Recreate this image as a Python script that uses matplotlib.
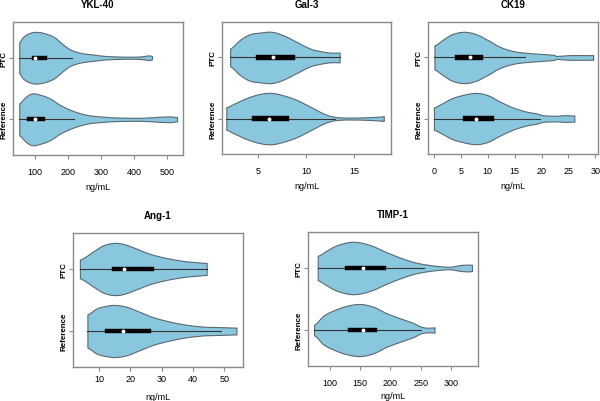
import numpy as np
import matplotlib
matplotlib.use("Agg")
import matplotlib.pyplot as plt

plt.rcParams['font.family'] = ['Liberation Sans', 'DejaVu Sans']

groups = ["Reference", "PTC"]
titles = ["YKL-40", "Gal-3", "CK19", "Ang-1", "TIMP-1"]
xlabel = "ng/mL"

# violin outlines: value positions and relative half-width (density)
ykl_ptc_v = [52, 64, 80, 100, 125, 156, 181, 206, 237, 277, 318, 378, 419, 444, 454]
ykl_ptc_d = [0.61, 0.81, 0.94, 1.0, 0.96, 0.81, 0.55, 0.32, 0.19, 0.12, 0.065, 0.04, 0.05, 0.09, 0.065]
ykl_ref_v = [52, 70, 90, 115, 146, 176, 216, 257, 297, 348, 419, 480, 510, 530]
ykl_ref_d = [0.62, 0.85, 1.0, 0.95, 0.8, 0.55, 0.32, 0.17, 0.11, 0.07, 0.06, 0.1, 0.11, 0.08]

gal_ptc_v = [2.1, 3.1, 4.1, 5.2, 6.4, 7.6, 9.0, 10.4, 11.45, 12.5, 13.5]
gal_ptc_d = [0.35, 0.68, 0.9, 0.97, 1.0, 0.87, 0.61, 0.35, 0.25, 0.19, 0.19]
gal_ref_v = [1.7, 2.4, 3.8, 5.2, 6.4, 7.6, 9.0, 10.4, 11.8, 12.8, 13.9, 15.3, 16.3, 17.4, 18.1]
gal_ref_d = [0.44, 0.56, 0.8, 0.96, 1.0, 0.91, 0.73, 0.47, 0.2, 0.08, 0.04, 0.04, 0.05, 0.07, 0.09]

ck_ptc_v = [0.1, 1.6, 3.4, 5.6, 7.8, 10.0, 12.2, 14.7, 17.2, 19.7, 22.2, 22.8, 25.3, 28.4, 29.6]
ck_ptc_d = [0.47, 0.68, 0.91, 1.0, 0.91, 0.68, 0.42, 0.25, 0.18, 0.14, 0.1, 0.06, 0.09, 0.09, 0.09]
ck_ref_v = [0.0, 1.6, 3.4, 5.6, 7.8, 10.0, 12.2, 14.7, 17.2, 19.1, 20.3, 22.8, 24.1, 26.1]
ck_ref_d = [0.44, 0.6, 0.8, 0.93, 1.0, 0.91, 0.67, 0.43, 0.27, 0.2, 0.13, 0.11, 0.13, 0.12]

ang_ptc_v = [3.9, 8.2, 11.4, 14.6, 17.8, 22.0, 26.3, 31.6, 36.9, 41.2, 44.4]
ang_ptc_d = [0.36, 0.68, 0.91, 1.0, 0.96, 0.78, 0.58, 0.42, 0.31, 0.26, 0.23]
ang_ref_v = [6.3, 9.3, 12.5, 15.1, 18.8, 23.1, 27.3, 32.7, 38.0, 43.3, 48.6, 53.9]
ang_ref_d = [0.64, 0.87, 0.97, 1.0, 0.93, 0.73, 0.53, 0.36, 0.24, 0.17, 0.15, 0.13]

timp_ptc_v = [79.6, 94.5, 111, 133, 152, 172, 194, 216, 238, 260, 282, 299, 315, 327, 335]
timp_ptc_d = [0.47, 0.67, 0.87, 1.0, 0.97, 0.83, 0.6, 0.4, 0.23, 0.13, 0.07, 0.05, 0.11, 0.13, 0.12]
timp_ref_v = [73.5, 89, 105.5, 127.6, 149.7, 171.8, 194, 216, 238, 249, 260, 273]
timp_ref_d = [0.2, 0.55, 0.75, 0.93, 1.0, 0.89, 0.64, 0.45, 0.27, 0.14, 0.09, 0.1]

# box statistics: [whisker low, q1, median, q3, whisker high]
ykl_ptc_box = [52, 90, 101, 136, 212]
ykl_ref_box = [52, 75, 100, 130, 218]
gal_ptc_box = [2.1, 4.83, 6.6, 8.9, 13.5]
gal_ref_box = [1.7, 4.37, 6.1, 8.24, 13.0]
ck_ptc_box = [0.1, 3.94, 6.75, 9.19, 16.9]
ck_ref_box = [0.0, 5.44, 7.81, 11.1, 19.7]
ang_ptc_box = [3.9, 14.3, 18.0, 27.7, 44.4]
ang_ref_box = [6.3, 11.9, 17.8, 26.5, 49.0]
timp_ptc_box = [79.6, 124, 155, 193, 255]
timp_ref_box = [73.5, 129, 155, 178, 250]

xticks = [[100, 200, 300, 400, 500], [5, 10, 15], [0, 5, 10, 15, 20, 25, 30],
          [10, 20, 30, 40, 50], [100, 150, 200, 250, 300]]
xlims = [(33, 548), (1.25, 18.85), (-1.1, 30.5), (1.7, 56), (63.5, 345)]

panels = [
    ((ykl_ref_v, ykl_ref_d, ykl_ref_box), (ykl_ptc_v, ykl_ptc_d, ykl_ptc_box)),
    ((gal_ref_v, gal_ref_d, gal_ref_box), (gal_ptc_v, gal_ptc_d, gal_ptc_box)),
    ((ck_ref_v, ck_ref_d, ck_ref_box), (ck_ptc_v, ck_ptc_d, ck_ptc_box)),
    ((ang_ref_v, ang_ref_d, ang_ref_box), (ang_ptc_v, ang_ptc_d, ang_ptc_box)),
    ((timp_ref_v, timp_ref_d, timp_ref_box), (timp_ptc_v, timp_ptc_d, timp_ptc_box)),
]

# axes rectangles in pixels (x0, y0, x1, y1) with y from top
W, H = 600, 402
rects = [(13, 23, 183, 156), (222, 23, 391, 155), (428, 23, 598, 155),
         (73, 234, 243, 368), (308, 233, 478, 367)]
tick_pads = [5.5, 5.5, 5.5, 2.0, 5.5]
xlabel_gap = [27, 27, 27, 25, 25]   # pixels from axes bottom to xlabel top

FILL = "#89c7df"
EDGE = "#5a6870"
FRAME = "#8a8a8a"


def smooth(x, y, n=12):
    x = np.asarray(x, float); y = np.asarray(y, float)
    px = np.concatenate([[2 * x[0] - x[1]], x, [2 * x[-1] - x[-2]]])
    py = np.concatenate([[y[0]], y, [y[-1]]])
    ox, oy = [], []
    t = np.linspace(0, 1, n, endpoint=False)
    for i in range(1, len(px) - 2):
        p0, p1, p2, p3 = px[i - 1], px[i], px[i + 1], px[i + 2]
        q0, q1, q2, q3 = py[i - 1], py[i], py[i + 1], py[i + 2]
        for arr, a0, a1, a2, a3 in ((ox, p0, p1, p2, p3), (oy, q0, q1, q2, q3)):
            arr.extend(0.5 * ((2 * a1) + (-a0 + a2) * t + (2 * a0 - 5 * a1 + 4 * a2 - a3) * t ** 2
                              + (-a0 + 3 * a1 - 3 * a2 + a3) * t ** 3))
    ox.append(x[-1]); oy.append(y[-1])
    return np.array(ox), np.clip(np.array(oy), 0.02, None)


fig = plt.figure(figsize=(6, 4.02), dpi=100)
for k, (title, pan) in enumerate(zip(titles, panels)):
    x0, y0, x1, y1 = rects[k]
    ax = fig.add_axes([x0 / W, 1 - y1 / H, (x1 - x0) / W, (y1 - y0) / H])
    for pos, (vals, dens, box) in enumerate(pan, start=1):
        sx, sy = smooth(vals, dens)
        hw = sy * 0.42
        ax.fill_between(sx, pos - hw, pos + hw, facecolor=FILL, edgecolor=EDGE, lw=0.8, zorder=2)
        ax.plot([box[0], box[4]], [pos, pos], color="#333333", lw=0.8, zorder=3)
        ax.fill_between([box[1], box[3]], pos - 0.035, pos + 0.035, facecolor="black",
                        edgecolor="black", lw=0.3, zorder=4)
        ax.plot([box[2]], [pos], "o", color="white", ms=2.8, mew=0, zorder=5)
    ax.set_xlim(*xlims[k])
    ax.set_ylim(0.42, 2.58)
    ax.set_xticks(xticks[k])
    ax.set_yticks([1, 2])
    ax.set_yticklabels(groups, rotation=90, va="center", fontsize=5.8, fontweight="bold")
    ax.tick_params(axis="x", labelsize=6.5, length=3, color=FRAME, pad=tick_pads[k])
    ax.tick_params(axis="y", length=3, color=FRAME, pad=1.0)
    for s in ax.spines.values():
        s.set_color(FRAME)
        s.set_linewidth(1.0)
    ax.set_title(title, fontsize=7, fontweight="bold", pad=10.5)
    ax.set_xlabel(xlabel, fontsize=6.5)
    ax.xaxis.set_label_coords(0.5, -xlabel_gap[k] / (y1 - y0))

fig.savefig("out.png", dpi=100)
